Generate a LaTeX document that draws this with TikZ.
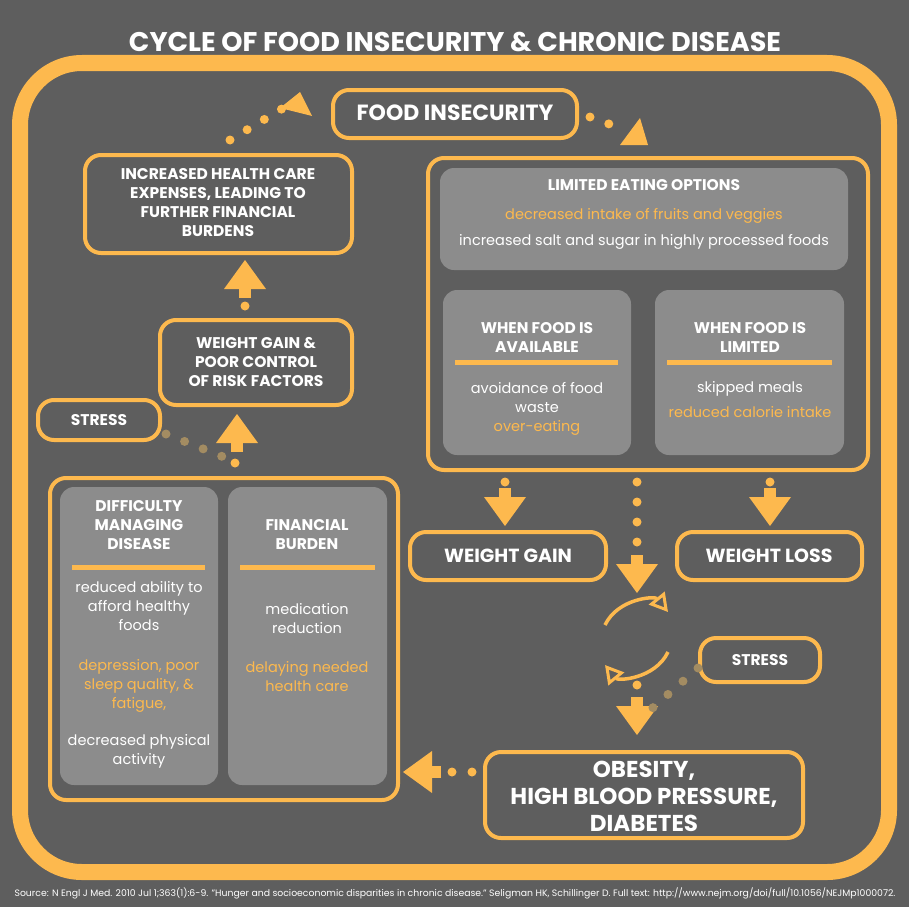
\documentclass[tikz,border=0pt]{standalone}
\usepackage{fontspec}
\setmainfont{Poppins}
\usetikzlibrary{arrows.meta,positioning}
\definecolor{fiorange}{HTML}{FDB94E}
\definecolor{fibg}{HTML}{5E5E5E}
\definecolor{fibox}{HTML}{8C8C8C}
\definecolor{fifade}{HTML}{A38C62}

\tikzset{
  frame/.style={draw=fiorange, line width=4pt, rounded corners=16pt},
  panel/.style={fill=fibox, rounded corners=14pt},
  head/.style={text=white, font=\fontsize{15.5}{19}\selectfont\bfseries, align=center},
  body/.style={text=white, font=\fontsize{14.5}{19}\selectfont, align=center},
  hot/.style={body, text=fiorange},
  dots/.style={draw=fiorange, line width=9pt, line cap=round, dash pattern=on 0pt off 20pt},
  fadedots/.style={dots, draw=fifade},
  bar/.style={draw=fiorange, line width=5pt},
  cyc/.style={draw=fiorange, line width=3.5pt, -{Triangle[open, length=18pt, width=20pt, line width=3pt]}},
  pics/bigarrow/.style={code={
    \fill[fiorange] (-6,0) rectangle (6,9);
    \fill[fiorange] (-21,9) -- (21,9) -- (0,38) -- cycle;
  }}
}

\begin{document}
\begin{tikzpicture}[x=1pt, y=-1pt]
\fill[fibg] (0,0) rectangle (909,907);
\useasboundingbox (0,0) rectangle (909,907);

% title and frame
\node[text=white, font=\fontsize{27}{30}\selectfont\bfseries] (title) at (455,42) {CYCLE OF FOOD INSECURITY \& CHRONIC DISEASE};
\draw[draw=fiorange, line width=16pt, rounded corners=62pt] (20,63) rectangle (889,872);

% top boxes
\draw[frame] (333,90) rectangle (577,138);
\node[text=white, font=\fontsize{22}{26}\selectfont\bfseries] (insecure) at (455,113) {FOOD INSECURITY};

\draw[frame] (85,155) rectangle (352,253);
\node[head] (expenses) at (218,203) {INCREASED HEALTH CARE\\EXPENSES, LEADING TO\\FURTHER FINANCIAL\\BURDENS};

\draw[frame] (160,320) rectangle (352,405);
\node[head] (riskgain) at (256,362) {WEIGHT GAIN \&\\POOR CONTROL\\OF RISK FACTORS};

\draw[frame] (38,400) rectangle (160,440);
\node[head] (stressL) at (99,420) {STRESS};

% limited eating options
\draw[frame] (428,158) rectangle (868,470);
\fill[panel] (440,168) rectangle (848,270);
\node[head] (limited) at (644,185) {LIMITED EATING OPTIONS};
\node[hot] (intake) at (644,216) {decreased intake of fruits and veggies};
\node[body] (salt) at (644,242) {increased salt and sugar in highly processed foods};

\fill[panel] (443,290) rectangle (631,455);
\node[head] (avail) at (537,337) {WHEN FOOD IS\\AVAILABLE};
\draw[bar] (455,362) -- (618,362);
\node[body] (waste) at (537,398) {avoidance of food\\waste};
\node[hot] (overeat) at (537,428) {over-eating};

\fill[panel] (655,290) rectangle (844,455);
\node[head] (limit) at (750,337) {WHEN FOOD IS\\LIMITED};
\draw[bar] (667,362) -- (832,362);
\node[body] (skip) at (750,389) {skipped meals};
\node[hot] (calorie) at (750,412) {reduced calorie intake};

% weight outcomes
\draw[frame] (410,532) rectangle (606,580);
\node[head, font=\fontsize{19}{22}\selectfont\bfseries] (gain) at (508,556) {WEIGHT GAIN};
\draw[frame] (677,532) rectangle (862,580);
\node[head, font=\fontsize{19}{22}\selectfont\bfseries] (loss) at (769,556) {WEIGHT LOSS};

\draw[frame] (700,638) rectangle (820,682);
\node[head] (stressR) at (760,660) {STRESS};

\draw[frame] (485,752) rectangle (803,838);
\node[text=white, font=\fontsize{23}{27}\selectfont\bfseries, align=center] (disease) at (644,796) {OBESITY,\\HIGH BLOOD PRESSURE,\\DIABETES};

% difficulty and burden
\draw[frame] (50,478) rectangle (398,800);
\fill[panel] (60,487) rectangle (218,785);
\node[head] (managing) at (139,525) {DIFFICULTY\\MANAGING\\DISEASE};
\draw[bar] (72,567) -- (205,567);
\node[body] (afford) at (139,606) {reduced ability to\\afford healthy\\foods};
\node[hot] (depress) at (139,686) {depression, poor\\sleep quality, \&\\fatigue,};
\node[body] (activity) at (139,751) {decreased physical\\activity};

\fill[panel] (228,487) rectangle (387,785);
\node[head] (burden) at (307,535) {FINANCIAL\\BURDEN};
\draw[bar] (240,567) -- (375,567);
\node[body] (medic) at (307,619) {medication\\reduction};
\node[hot] (delay) at (307,677) {delaying needed\\health care};

% connectors
\draw[dots] (230,140) -- (290,104);
\fill[fiorange] (300,92) -- (312,116) -- (280,108) -- cycle;
\draw[dots] (590,117) -- (620,128);
\fill[fiorange] (648,145) -- (620,145) -- (640,118) -- cycle;

\draw[dots] (505,482) -- (505,483);
\pic at (505,488) {bigarrow};
\draw[dots] (770,482) -- (770,483);
\pic at (770,488) {bigarrow};
\draw[dots] (637,482) -- (637,545);
\pic at (637,555) {bigarrow};

\draw[cyc] (605,625) .. controls (618,598) and (655,596) .. (668,612);
\draw[cyc] (668,652) .. controls (655,679) and (618,681) .. (605,665);

\draw[dots] (637,685) -- (637,686);
\pic at (637,697) {bigarrow};
\draw[fadedots] (698,668) -- (648,712);

\draw[dots] (472,772) -- (452,772);
\pic[rotate=-90] at (441,772) {bigarrow};

\draw[dots] (235,463) -- (235,462);
\pic[rotate=180] at (237,452) {bigarrow};
\draw[fadedots] (166,434) -- (226,458);

\draw[dots] (245,306) -- (245,307);
\pic[rotate=180] at (245,298) {bigarrow};

\node[text=white, font=\fontsize{9.3}{10}\selectfont] (source) at (455,893) {Source: N Engl J Med. 2010 Jul 1;363(1):6-9. "Hunger and socioeconomic disparities in chronic disease." Seligman HK, Schillinger D. Full text: http://www.nejm.org/doi/full/10.1056/NEJMp1000072.};
\end{tikzpicture}
\end{document}
